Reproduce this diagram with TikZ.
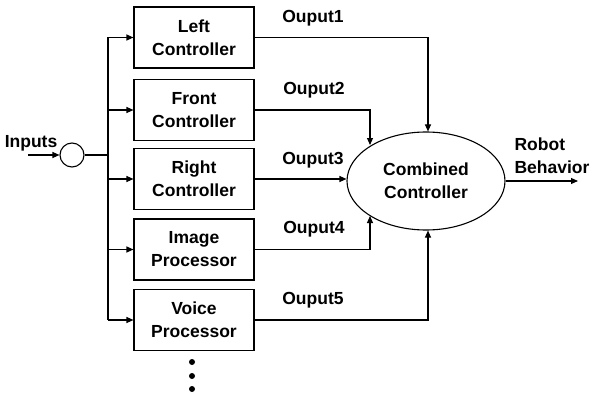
\documentclass[tikz,border=0pt]{standalone}
\usepackage{fontspec}
\setmainfont{Liberation Sans}
\usetikzlibrary{arrows.meta,shapes.geometric}
\begin{document}
\begin{tikzpicture}[x=1pt,y=-1pt,line width=1.1pt,
  txt/.style={font=\bfseries\fontsize{17.5}{23}\selectfont},
  blk/.style={draw,txt,minimum width=120pt,minimum height=61pt,align=center,inner sep=0pt},
  lbl/.style={txt,inner sep=0pt},
  arr/.style={-{Triangle[length=7pt,width=6pt]}},
  dotn/.style={circle,fill,inner sep=0pt,minimum size=6pt}]
\useasboundingbox (0,0) rectangle (595,396);
\node[blk] (b1) at (194,37.5) {Left\\Controller};
\node[blk] (b2) at (194,110) {Front\\Controller};
\node[blk] (b3) at (194,179) {Right\\Controller};
\node[blk] (b4) at (194,249.5) {Image\\Processor};
\node[blk] (b5) at (194,320) {Voice\\Processor};
\node[draw,circle,minimum size=24pt,inner sep=0pt] (c) at (72,155) {};
\node[draw,ellipse,txt,minimum width=158pt,minimum height=98pt,align=center,inner sep=0pt] (e) at (426,181) {Combined\\Controller};
\coordinate (in) at (28,155);
\coordinate (bt) at (108,37.5);
\coordinate (bb) at (108,320);
\coordinate (out) at (578,181);
\node[lbl] (tin) at (31,143) {Inputs};
\draw[arr] (in) -- (c);
\draw (c.east) -- (108,155);
\draw (bt) -- (bb);
\foreach \b in {b1,b2,b3,b4,b5} \draw[arr] (bt |- \b.west) -- (\b.west);
\draw[arr] (b1.east) -- (428,37.5) -- (428,0 |- e.north);
\draw[arr] (b2.east) -- (370,110) -- (370,145);
\draw[arr] (b3.east) -- (e.west |- b3.east);
\draw[arr] (b4.east) -- (370,249.5) -- (370,216);
\draw[arr] (b5.east) -- (428,320) -- (428,0 |- e.south);
\draw[arr] (e.east) -- (out);
\node[lbl] (o1) at (313,18) {Ouput1};
\node[lbl] (o2) at (314,90) {Ouput2};
\node[lbl] (o3) at (313,160) {Ouput3};
\node[lbl] (o4) at (314,229) {Ouput4};
\node[lbl] (o5) at (313,300) {Ouput5};
\node[lbl,align=left,anchor=west] (rb) at (514,156) {Robot\\Behavior};
\node[dotn] (d1) at (192,362) {};
\node[dotn] (d2) at (192,376) {};
\node[dotn] (d3) at (192,389) {};
\end{tikzpicture}
\end{document}
